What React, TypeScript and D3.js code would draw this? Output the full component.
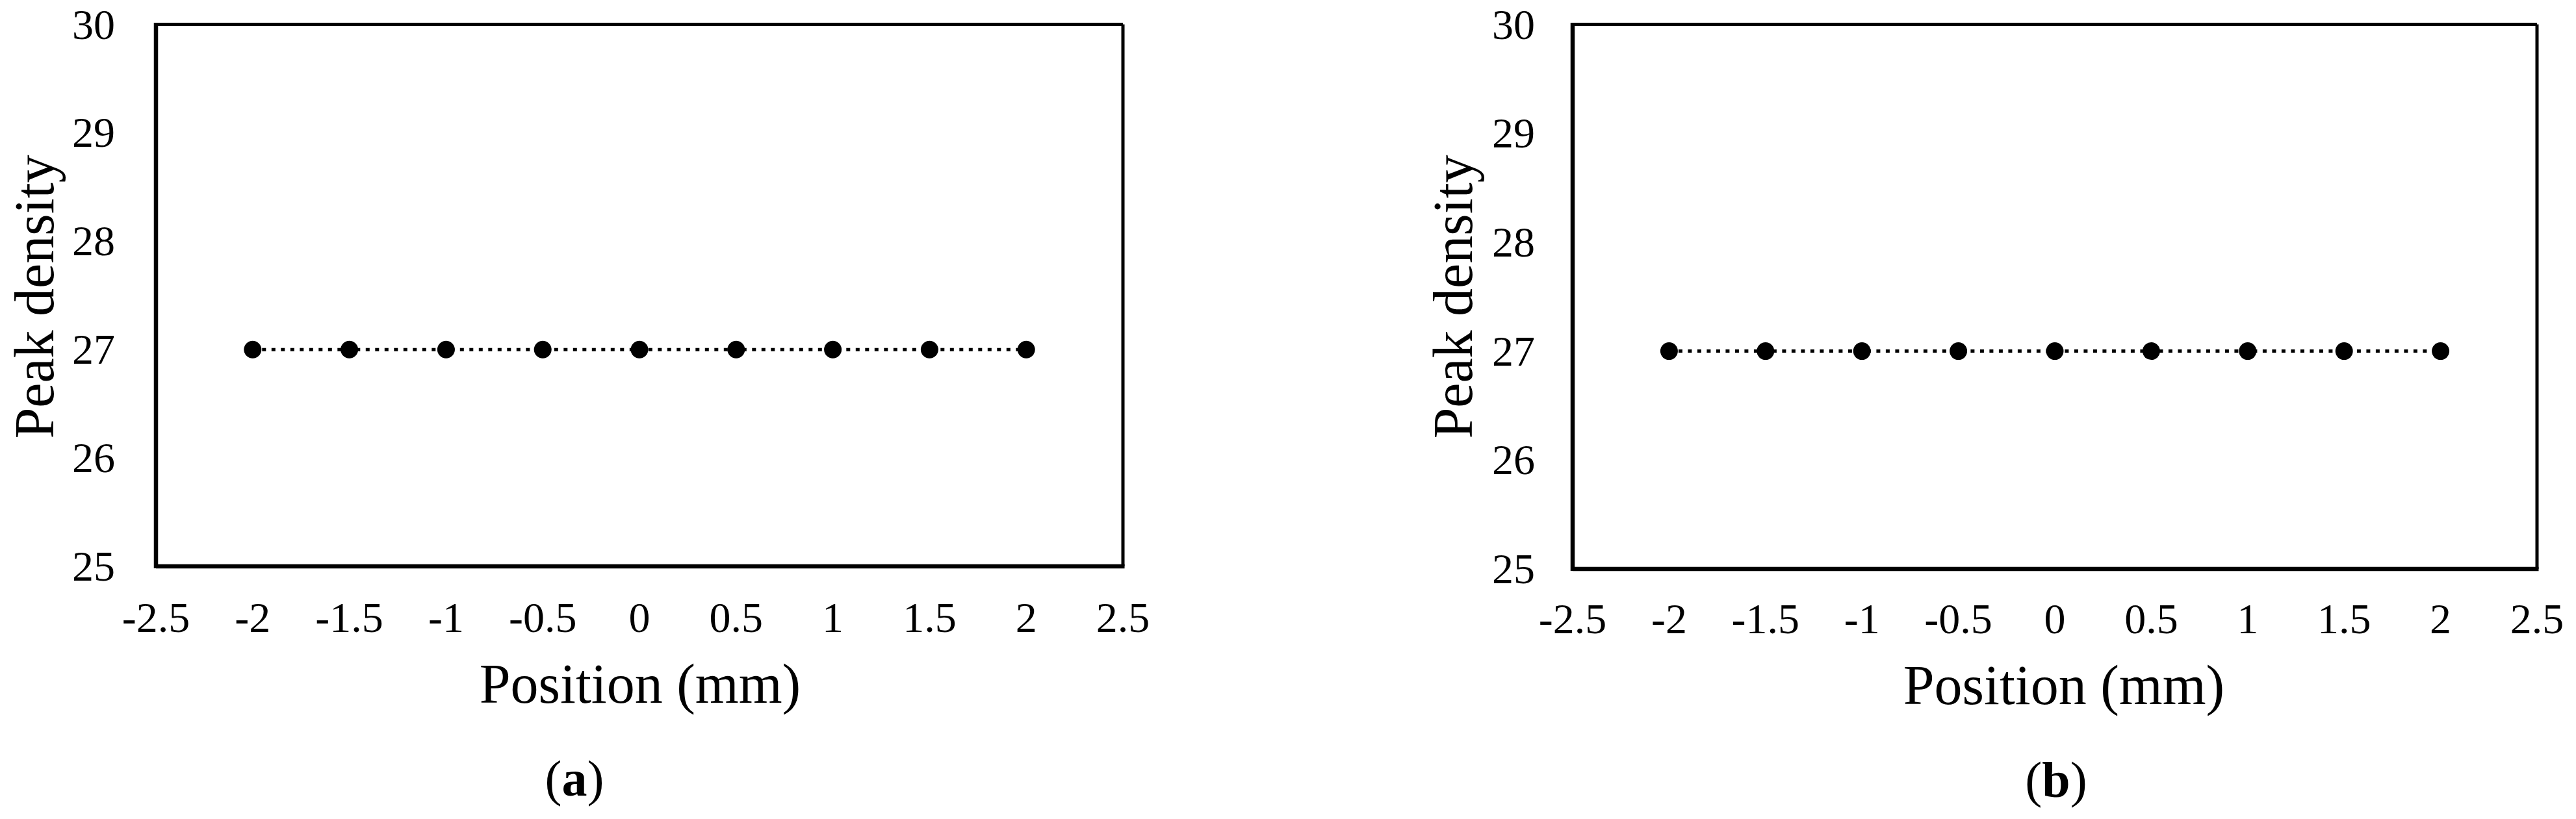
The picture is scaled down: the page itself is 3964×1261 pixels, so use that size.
import React from "react";
import * as d3 from "d3";

// ---- Data ----
const positions: number[] = [-2, -1.5, -1, -0.5, 0, 0.5, 1, 1.5, 2];
const peakDensityA: number[] = [27, 27, 27, 27, 27, 27, 27, 27, 27];
const peakDensityB: number[] = [27, 27, 27, 27, 27, 27, 27, 27, 27];
const xTicks: number[] = [-2.5, -2, -1.5, -1, -0.5, 0, 0.5, 1, 1.5, 2, 2.5];
const yTicks: number[] = [25, 26, 27, 28, 29, 30];
const xDomain: [number, number] = [-2.5, 2.5];
const yDomain: [number, number] = [25, 30];
const xTitle = "Position (mm)";
const yTitle = "Peak density";
const panelLabels = ["a", "b"];

// ---- Layout ----
const W = 3964;
const H = 1261;
const FONT = "'Liberation Serif', 'Times New Roman', Times, serif";

interface PanelLayout {
  left: number;
  right: number;
  top: number;
  bottom: number;
  yLabelRight: number;
  yTitleX: number;
  yTitleY: number;
  xLabelBaseline: number;
  xTitleX: number;
  xTitleBaseline: number;
  tagX: number;
  tagBaseline: number;
}

const layouts: PanelLayout[] = [
  {
    left: 240, right: 1728, top: 37.5, bottom: 872,
    yLabelRight: 177, yTitleX: 82, yTitleY: 457,
    xLabelBaseline: 973, xTitleX: 985, xTitleBaseline: 1082,
    tagX: 884, tagBaseline: 1225,
  },
  {
    left: 2420, right: 3904, top: 37.5, bottom: 876,
    yLabelRight: 2362, yTitleX: 2265, yTitleY: 457,
    xLabelBaseline: 975, xTitleX: 3176, xTitleBaseline: 1084,
    tagX: 3164, tagBaseline: 1227,
  },
];

const fmt = (v: number) => (v < 0 ? "-" + String(Math.abs(v)) : String(v));

function Panel({ L, values, tag }: { L: PanelLayout; values: number[]; tag: string }) {
  const x = d3.scaleLinear().domain(xDomain).range([L.left, L.right]);
  const y = d3.scaleLinear().domain(yDomain).range([L.bottom, L.top]);
  const pts = positions.map((p, i) => [p, values[i]] as [number, number]);
  const line = d3
    .line<[number, number]>()
    .x((d) => x(d[0]))
    .y((d) => y(d[1]));

  return (
    <g>
      {/* plot frame */}
      <line x1={L.left} x2={L.right} y1={L.top} y2={L.top} stroke="#000" strokeWidth={5} />
      <line x1={L.right} x2={L.right} y1={L.top} y2={L.bottom} stroke="#000" strokeWidth={5} />
      <line x1={L.left} x2={L.right + 2.5} y1={L.bottom} y2={L.bottom} stroke="#000" strokeWidth={6.5} />
      <line x1={L.left} x2={L.left} y1={L.top - 2.5} y2={L.bottom + 3} stroke="#000" strokeWidth={6.5} />

      {/* y tick labels */}
      {yTicks.map((t) => (
        <text
          key={"y" + t}
          x={L.yLabelRight}
          y={y(t) + 22}
          textAnchor="end"
          fontFamily={FONT}
          fontSize={66}
          fill="#000"
        >
          {fmt(t)}
        </text>
      ))}

      {/* x tick labels */}
      {xTicks.map((t) => (
        <text
          key={"x" + t}
          x={x(t)}
          y={L.xLabelBaseline}
          textAnchor="middle"
          fontFamily={FONT}
          fontSize={66}
          fill="#000"
        >
          {fmt(t)}
        </text>
      ))}

      {/* series */}
      <path
        d={line(pts) || ""}
        fill="none"
        stroke="#000"
        strokeWidth={5}
        strokeDasharray="6 8.5"
      />
      {pts.map((d, i) => (
        <circle key={"p" + i} cx={x(d[0])} cy={y(d[1])} r={13.5} fill="#000" />
      ))}

      {/* axis titles */}
      <text
        x={L.xTitleX}
        y={L.xTitleBaseline}
        textAnchor="middle"
        fontFamily={FONT}
        fontSize={86}
        fill="#000"
      >
        {xTitle}
      </text>
      <text
        transform={`translate(${L.yTitleX},${L.yTitleY}) rotate(-90)`}
        textAnchor="middle"
        fontFamily={FONT}
        fontSize={86}
        fill="#000"
      >
        {yTitle}
      </text>

      {/* panel tag */}
      <text
        x={L.tagX}
        y={L.tagBaseline}
        textAnchor="middle"
        fontFamily={FONT}
        fontSize={78}
        fill="#000"
      >
        (<tspan fontWeight="bold">{tag}</tspan>)
      </text>
    </g>
  );
}

export default function App() {
  return (
    <svg
      width={W}
      height={H}
      viewBox={`0 0 ${W} ${H}`}
      style={{ position: "absolute", left: 0, top: 0, background: "#fff" }}
    >
      <rect x={0} y={0} width={W} height={H} fill="#fff" />
      <Panel L={layouts[0]} values={peakDensityA} tag={panelLabels[0]} />
      <Panel L={layouts[1]} values={peakDensityB} tag={panelLabels[1]} />
    </svg>
  );
}
